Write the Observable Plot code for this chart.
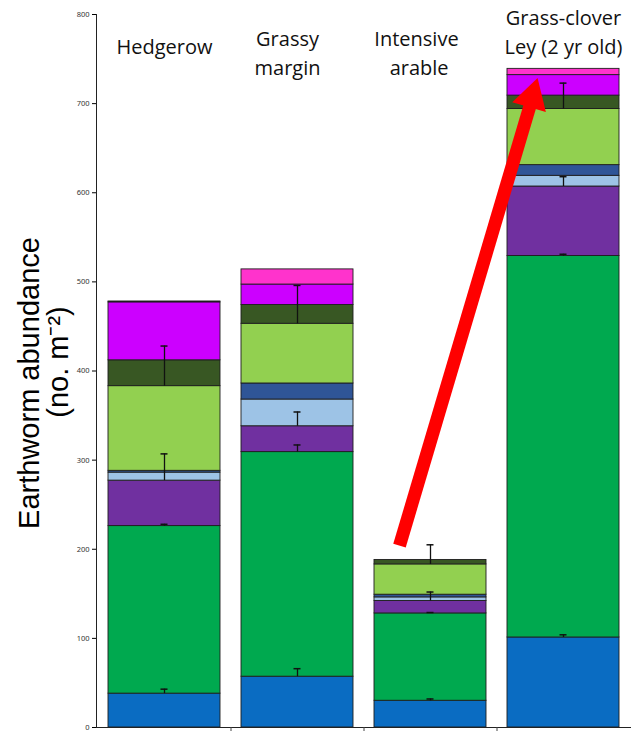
<!DOCTYPE html>
<html><head><meta charset="utf-8">
<script src="https://cdn.jsdelivr.net/npm/d3@7"></script>
<script src="https://cdn.jsdelivr.net/npm/@observablehq/plot@0.6"></script>
<style>body{margin:0;background:#fff} svg{display:block}</style>
</head><body><div id="chart"></div>
<script>
// Categories (sites) and their header labels
const sites = ["Hedgerow", "Grassy margin", "Intensive arable", "Grass-clover Ley (2 yr old)"];
const siteLabels = ["Hedgerow", "Grassy\nmargin", "Intensive\n arable", "Grass-clover\nLey (2 yr old)"];

// Stacked series (bottom to top) and their colours
const seriesNames = ["s1", "s2", "s3", "s4", "s5", "s6", "s7", "s8", "s9"];
const seriesColors = ["#0a6cc2", "#00a94f", "#7030a0", "#9dc3e6", "#2f5597", "#92d050", "#385723", "#cc00ff", "#ff33cc"];

// Values (earthworms per m²) per site, in site order
const s1 = [38, 57, 30, 101];
const s2 = [188, 252, 98, 428];
const s3 = [51, 29, 14, 78];
const s4 = [9, 30, 4, 12];
const s5 = [2, 18, 3, 12];
const s6 = [95, 67, 34, 63];
const s7 = [29, 21, 5, 15];
const s8 = [65, 23, 0, 23];
const s9 = [1, 17, 0, 7];
const seriesValues = [s1, s2, s3, s4, s5, s6, s7, s8, s9];

// Error bars (plus only), drawn from the top of the given series
const errS1 = [5, 9, 2, 3];
const errS2 = [2, 8, 1, 2];
const errS3 = [30, 16, 10, 11];
const errS6 = [45, 43, 22, 29];
const errSeries = [[0, errS1], [1, errS2], [2, errS3], [5, errS6]];

// Y axis ticks
const yTicks = [0, 100, 200, 300, 400, 500, 600, 700, 800];

// Red annotation arrow (site, value)
const arrowTail = ["Intensive arable", 204];
const arrowHead = ["Grass-clover Ley (2 yr old)", 707];

// Build tables
const rows = [];
seriesNames.forEach((s, k) => sites.forEach((site, i) => {
  if (seriesValues[k][i] > 0) rows.push({site, series: s, value: seriesValues[k][i]});
}));
const tops = seriesValues.map((_, k) => sites.map((_, i) => d3.sum(seriesValues.slice(0, k + 1), v => v[i])));
const errRows = [];
errSeries.forEach(([k, errs]) => sites.forEach((site, i) => {
  errRows.push({site, top: tops[k][i], end: tops[k][i] + errs[i]});
}));

const textFont = "Open Sans";
const chart = Plot.plot({
  width: 631,
  height: 735,
  marginLeft: 96,
  marginRight: 0,
  marginTop: 14,
  marginBottom: 8,
  x: {domain: sites, paddingInner: 0.158, paddingOuter: 0.09, axis: null},
  y: {domain: [0, 800], axis: null},
  color: {domain: seriesNames, range: seriesColors},
  style: {background: "#fff"},
  marks: [
    Plot.barY(rows, {x: "site", y: "value", fill: "series", stroke: "#1e1e1e", strokeWidth: 0.9}),
    Plot.ruleX(errRows, {x: "site", y1: "top", y2: "end", stroke: "#111", strokeWidth: 1.3}),
    Plot.tickY(errRows, {x: "site", y: "end", insetLeft: 52.5, insetRight: 52.5, stroke: "#111", strokeWidth: 1.5}),
    Plot.axisY({ticks: yTicks, tickSize: 4, tickPadding: 3, fontSize: 7.5, label: null, fill: "#333", tickFormat: d => d}),
    Plot.ruleY([0], {stroke: "#222", strokeWidth: 1}),
    Plot.frame({anchor: "left", stroke: "#222", strokeWidth: 1}),
    Plot.ruleX(sites.slice(0, 3), {x: d => d, y1: 0, y2: -4.5, dx: 66.5, stroke: "#444"}),
    // header labels
    Plot.text([siteLabels[0]], {x: () => sites[0], frameAnchor: "top", lineAnchor: "middle", dy: 33, text: d => d, fontSize: 20, fontFamily: textFont, fill: "#111"}),
    Plot.text([siteLabels[1]], {x: () => sites[1], frameAnchor: "top", lineAnchor: "middle", dy: 36.5, dx: -10, lineHeight: 1.45, text: d => d, fontSize: 20, fontFamily: textFont, fill: "#111"}),
    Plot.text([siteLabels[2]], {x: () => sites[2], frameAnchor: "top", lineAnchor: "middle", dy: 36.5, dx: -14, lineHeight: 1.45, text: d => d, fontSize: 20, fontFamily: textFont, fill: "#111"}),
    Plot.text([siteLabels[3]], {x: () => sites[3], frameAnchor: "top", lineAnchor: "middle", dy: 16, lineHeight: 1.45, text: d => d, fontSize: 20, fontFamily: textFont, fill: "#111"}),
    // y title
    Plot.text(["Earthworm abundance"], {frameAnchor: "left", textAnchor: "middle", lineAnchor: "middle", rotate: -90, dx: -67, dy: 12, text: d => d, fontSize: 29, fontFamily: "Liberation Sans, Arial, sans-serif", fill: "#000"}),
    Plot.text(["(no. m\u207B\u00B2)"], {frameAnchor: "left", textAnchor: "middle", lineAnchor: "middle", rotate: -90, dx: -38, dy: -9, text: d => d, fontSize: 29, fontFamily: "Liberation Sans, Arial, sans-serif", fill: "#000"}),
    // red arrow
    Plot.link([[arrowTail, arrowHead]], {x1: d => d[0][0], y1: d => d[0][1], x2: d => d[1][0], y2: d => d[1][1], dx: -31, stroke: "#ff0000", strokeWidth: 13}),
    Plot.dot([arrowHead], {x: d => d[0], y: d => d[1], dx: -31.6, symbol: "triangle", r: 13, fill: "#ff0000", stroke: "none", rotate: 16.3})
  ]
});
document.getElementById("chart").appendChild(chart);
</script>
</body></html>
